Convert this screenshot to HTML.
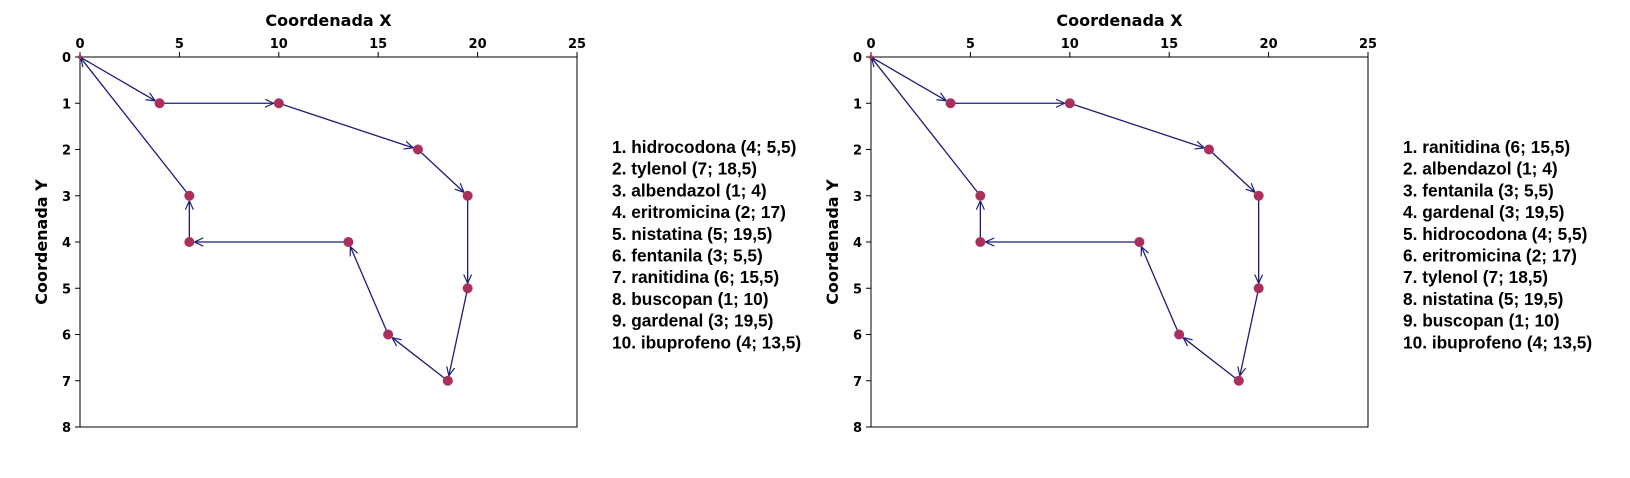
<!DOCTYPE html>
<html><head><meta charset="utf-8"><style>
body{margin:0;background:#fff;width:1630px;height:478px;overflow:hidden}
svg{display:block}
</style></head><body>
<svg id="chart" width="1630" height="478" xmlns="http://www.w3.org/2000/svg">
<defs><marker id="arr" viewBox="0 0 10 10" refX="10" refY="5" markerWidth="9" markerHeight="9" markerUnits="userSpaceOnUse" orient="auto"><path d="M0,0.5 L10,5 L0,9.5" fill="none" stroke="#1c1c78" stroke-width="1.3"/></marker></defs>
</svg>
<script>
const routeX = [0, 4, 10, 17, 19.5, 19.5, 18.5, 15.5, 13.5, 5.5, 5.5, 0];
const routeY = [0, 1, 1, 2, 3, 5, 7, 6, 4, 4, 3, 0];
const xTicks = [0, 5, 10, 15, 20, 25];
const yTicks = [0, 1, 2, 3, 4, 5, 6, 7, 8];
const legendLeft = ["1. hidrocodona (4; 5,5)","2. tylenol (7; 18,5)","3. albendazol (1; 4)","4. eritromicina (2; 17)","5. nistatina (5; 19,5)","6. fentanila (3; 5,5)","7. ranitidina (6; 15,5)","8. buscopan (1; 10)","9. gardenal (3; 19,5)","10. ibuprofeno (4; 13,5)"];
const legendRight = ["1. ranitidina (6; 15,5)","2. albendazol (1; 4)","3. fentanila (3; 5,5)","4. gardenal (3; 19,5)","5. hidrocodona (4; 5,5)","6. eritromicina (2; 17)","7. tylenol (7; 18,5)","8. nistatina (5; 19,5)","9. buscopan (1; 10)","10. ibuprofeno (4; 13,5)"];
const svg = document.getElementById('chart');
const NS = 'http://www.w3.org/2000/svg';
function mk(t, a, txt){const e=document.createElementNS(NS,t);for(const k in a)e.setAttribute(k,a[k]);if(txt!==undefined)e.textContent=txt;svg.appendChild(e);return e;}
function panel(L, legend, id){
  const R=L+497, T=57, B=427;
  const sx=v=>L+(v-0)/25*(R-L), sy=v=>T+(v-0)/8*(B-T);
  const frame=mk('rect',{x:L,y:T,width:R-L,height:B-T,fill:'none',stroke:'#000','stroke-width':1});
  
  
  xTicks.forEach(v=>{
    const ln=mk('line',{x1:sx(v),x2:sx(v),y1:T,y2:T-5,stroke:'#000'});
    
    
    const t=mk('text',{x:sx(v),y:T-9,'text-anchor':'middle','font-family':'DejaVu Sans, sans-serif','font-weight':'bold','font-size':13},v);
    
    
  });
  yTicks.forEach(v=>{
    const ln=mk('line',{x1:L,x2:L-5,y1:sy(v),y2:sy(v),stroke:'#000'});
    
    
    const t=mk('text',{x:L-9,y:sy(v)+5,'text-anchor':'end','font-family':'DejaVu Sans, sans-serif','font-weight':'bold','font-size':13},v);
    
    
  });
  const xt=mk('text',{x:(L+R)/2,y:26,'text-anchor':'middle','font-family':'DejaVu Sans, sans-serif','font-weight':'bold','font-size':16},'Coordenada X');
  
  
  const cy=(T+B)/2, cx=L-33;
  const yt=mk('text',{x:cx,y:cy,'text-anchor':'middle',transform:`rotate(-90 ${cx} ${cy})`,'font-family':'DejaVu Sans, sans-serif','font-weight':'bold','font-size':16},'Coordenada Y');
  
  
  for(let i=0;i<routeX.length-1;i++){
    const x1=sx(routeX[i]),y1=sy(routeY[i]),x2=sx(routeX[i+1]),y2=sy(routeY[i+1]);
    const d=Math.hypot(x2-x1,y2-y1)||1;
    const s=(i+1===routeX.length-1)?1:5;
    const ln=mk('line',{x1:x1,y1:y1,x2:x2-(x2-x1)/d*s,y2:y2-(y2-y1)/d*s,stroke:'#1c1c78','stroke-width':1.3,'marker-end':'url(#arr)'});
    
    
  }
  for(let i=0;i<routeX.length-1;i++){
    const c=mk('circle',{cx:sx(routeX[i]),cy:sy(routeY[i]),r:i===0?2:5,fill:'#ab2f5c'});
    
    
  }
  legend.forEach((s,i)=>{
    const t=mk('text',{x:R+35,y:153+i*21.7,'font-family':'Liberation Sans, Arial, sans-serif','font-weight':'bold','font-size':17.3},s);
    
    
  });
}
panel(80, legendLeft, 'left');
panel(871, legendRight, 'right');
</script>
</body></html>
